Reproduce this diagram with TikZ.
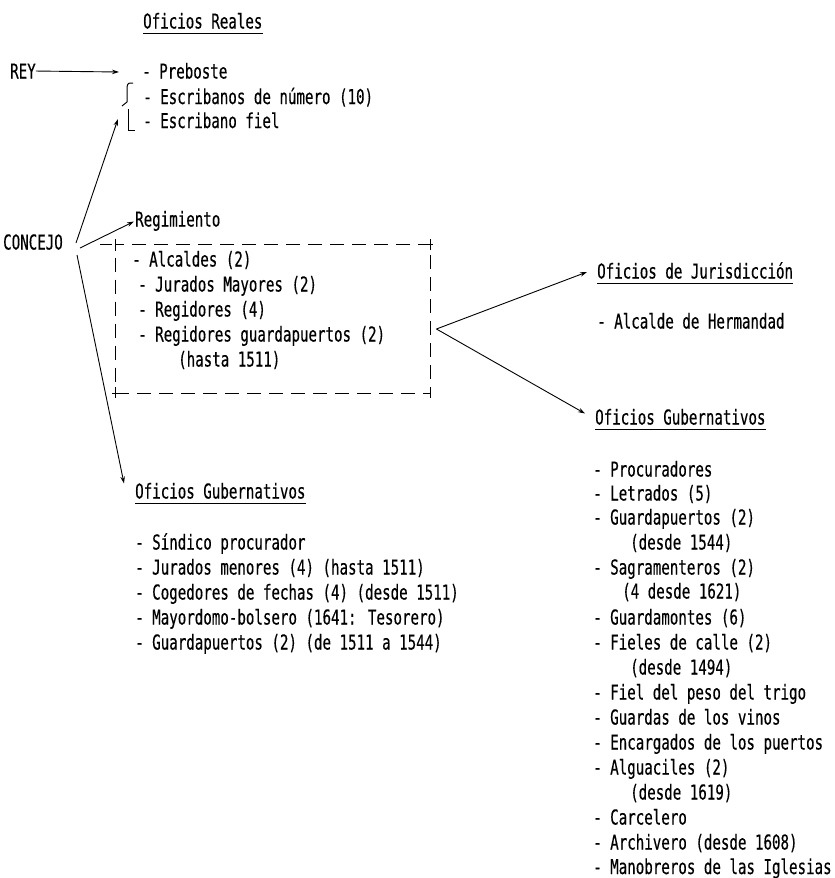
\documentclass[tikz,border=0pt]{standalone}
\usepackage{fontspec}
\setmainfont{DejaVu Sans Mono}[FakeStretch=0.69,FakeBold=0.35]
\usetikzlibrary{arrows.meta,calc}
\begin{document}
\begin{tikzpicture}[x=1pt,y=-1pt,
  txt/.style={anchor=base west,inner sep=0pt,font=\fontsize{20.5}{25}\selectfont},
  arr/.style={line width=0.9pt,-{Stealth[length=7pt,width=4.5pt]}},
  uline/.style={line width=1.4pt},
  dbox/.style={draw,line width=0.9pt,dash pattern=on 14pt off 8pt,minimum width=315pt,minimum height=149pt,inner sep=0pt}]
\useasboundingbox (0,0) rectangle (835,878);
% --- Oficios Reales
\node[txt] (or) at (143,28.5) {Oficios Reales};
\draw[uline] ($(or.base west)+(0,5)$) -- ($(or.base east)+(0,5)$);
\node[txt] (rey) at (10,78.5) {REY};
\node[txt] (pre) at (142,78.5) {- Preboste};
\node[txt] (esc) at (143,104) {- Escribanos de número (10)};
\node[txt] (fiel) at (143,128) {- Escribano fiel};
\coordinate (pretip) at (119,72);
\draw[arr] (rey.east) -- (pretip);
% brace
\draw[line width=1pt] (133,83) .. controls (128,83) .. (127,87) -- (127,102) -- (122,106);
\draw[line width=1pt] (128,109) -- (128,130) -- (135,130);
\coordinate (bracetip) at (118,119);
% --- CONCEJO
\node[txt] (conc) at (3,249.5) {CONCEJO};
\coordinate (c1) at (76,243);
\coordinate (c2) at (80,248);
\coordinate (c3) at (77,255);
\draw[arr] (c1) -- (bracetip);
\node[txt] (reg) at (135,226.5) {Regimiento};
\draw[arr] (c2) -- ($(reg.base west)+(-1,-5)$);
% --- Regimiento box
\node[dbox] (box) at (272.5,319) {};
\draw[line width=0.9pt] (100,244.5) -- (112,244.5) (115,239) -- (115,251)
  (425,244.5) -- (433,244.5) (430,239) -- (430,250)
  (115,387) -- (115,398) (112,393.5) -- (120,393.5)
  (430,387) -- (430,398) (424,393.5) -- (430,393.5);
\node[txt] (alc) at (132,266.5) {- Alcaldes (2)};
\node[txt] (jur) at (138,291.5) {- Jurados Mayores (2)};
\node[txt] (regi) at (138,316.5) {- Regidores (4)};
\node[txt] (regg) at (138,341.5) {- Regidores guardapuertos (2)};
\node[txt] (regh) at (178,366.5) {(hasta 1511)};
% --- left Oficios Gubernativos
\node[txt] (ogl) at (135,498.5) {Oficios Gubernativos};
\draw[uline] ($(ogl.base west)+(0,5)$) -- ($(ogl.base east)+(0,5)$);
\draw[arr] (c3) -- ($(ogl.base west)+(-11,-15)$);
\node[txt] (l1) at (135,549.5) {- Síndico procurador};
\node[txt] (l2) at (135,574.5) {- Jurados menores (4) (hasta 1511)};
\node[txt] (l3) at (135,599.5) {- Cogedores de fechas (4) (desde 1511)};
\node[txt] (l4) at (135,624.5) {- Mayordomo-bolsero (1641: Tesorero)};
\node[txt] (l5) at (135,649.5) {- Guardapuertos (2) (de 1511 a 1544)};
% --- right side
\coordinate (bx) at ($(box.east)+(6,10)$);
\node[txt] (oj) at (597,278.5) {Oficios de Jurisdicción};
\draw[uline] ($(oj.base west)+(0,5)$) -- ($(oj.base east)+(0,5)$);
\node[txt] (ah) at (597,328.5) {- Alcalde de Hermandad};
\draw[arr] (bx) -- ($(oj.base west)+(-10,-6.5)$);
\node[txt] (ogr) at (595,424.5) {Oficios Gubernativos};
\draw[uline] ($(ogr.base west)+(0,5)$) -- ($(ogr.base east)+(0,5)$);
\draw[arr] (bx) -- ($(ogr.base west)+(-10,-11)$);
\node[txt] (r1) at (593,476.5) {- Procuradores};
\node[txt] (r2) at (593,500.5) {- Letrados (5)};
\node[txt] (r3) at (593,524.5) {- Guardapuertos (2)};
\node[txt] (r3b) at (630,549.5) {(desde 1544)};
\node[txt] (r4) at (593,574.5) {- Sagramenteros (2)};
\node[txt] (r4b) at (622,598.5) {(4 desde 1621)};
\node[txt] (r5) at (593,624.5) {- Guardamontes (6)};
\node[txt] (r6) at (593,649.5) {- Fieles de calle (2)};
\node[txt] (r6b) at (630,674.5) {(desde 1494)};
\node[txt] (r7) at (593,699.5) {- Fiel del peso del trigo};
\node[txt] (r8) at (593,724.5) {- Guardas de los vinos};
\node[txt] (r9) at (593,749.5) {- Encargados de los puertos};
\node[txt] (r10) at (593,774.5) {- Alguaciles (2)};
\node[txt] (r10b) at (630,799.5) {(desde 1619)};
\node[txt] (r11) at (593,824.5) {- Carcelero};
\node[txt] (r12) at (593,849.5) {- Archivero (desde 1608)};
\node[txt] (r13) at (593,874) {- Manobreros de las Iglesias};
\end{tikzpicture}
\end{document}
